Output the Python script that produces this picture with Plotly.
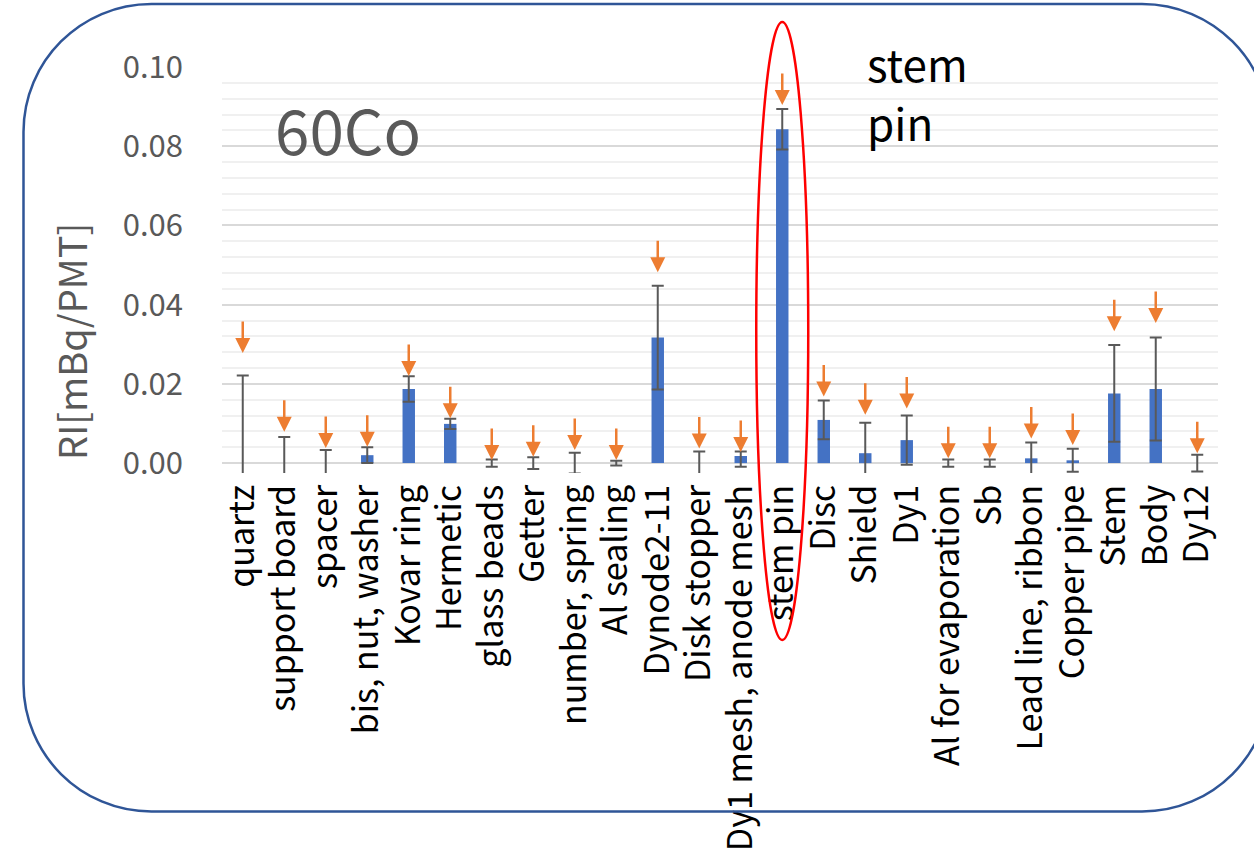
import plotly.graph_objects as go

# Parts of the PMT and their measured 60Co activity (mBq/PMT)
categories = [
    "quartz", "support board", "spacer", "bis, nut, washer", "Kovar ring",
    "Hermetic", "glass beads", "Getter", "number, spring", "Al sealing",
    "Dynode2-11", "Disk stopper", "Dy1 mesh, anode mesh", "stem pin", "Disc",
    "Shield", "Dy1", "Al for evaporation", "Sb", "Lead line, ribbon",
    "Copper pipe", "Stem", "Body", "Dy12",
]
values = [
    0.0, 0.0, 0.0, 0.0020, 0.0187,
    0.0099, 0.0, 0.0, 0.0, 0.0,
    0.0317, 0.0, 0.0018, 0.0843, 0.0109,
    0.0025, 0.0058, 0.0, 0.0, 0.0012,
    0.0007, 0.0176, 0.0187, 0.0,
]
err_plus = [
    0.0221, 0.0066, 0.0033, 0.0020, 0.0032,
    0.0013, 0.0009, 0.0015, 0.0026, 0.0006,
    0.0131, 0.0029, 0.0011, 0.0051, 0.0049,
    0.0077, 0.0062, 0.0009, 0.0009, 0.0040,
    0.0029, 0.0122, 0.0130, 0.0021,
]
err_minus = [
    0.0221, 0.0066, 0.0033, 0.0020, 0.0032,
    0.0013, 0.0009, 0.0015, 0.0026, 0.0006,
    0.0131, 0.0029, 0.0027, 0.0051, 0.0049,
    0.0077, 0.0062, 0.0009, 0.0009, 0.0040,
    0.0029, 0.0122, 0.0130, 0.0021,
]
# Upper limits, drawn as downward arrows
upper_limits = [
    0.0278, 0.0079, 0.0038, 0.0041, 0.0220,
    0.0113, 0.0008, 0.0016, 0.0033, 0.0008,
    0.0482, 0.0037, 0.0028, 0.0904, 0.0168,
    0.0122, 0.0138, 0.0012, 0.0012, 0.0062,
    0.0046, 0.0333, 0.0354, 0.0025,
]
y_ticks = [0.0, 0.02, 0.04, 0.06, 0.08, 0.10]
y_tick_text = ["0.00", "0.02", "0.04", "0.06", "0.08", "0.10"]

W, H = 1254, 857
L, R, T, B = 222, 36, 67, 384
PW, PH = W - L - R, H - T - B
FONT = "Noto Sans CJK JP"


def px(x):
    return (x - L) / PW


def py(y):
    return (H - B - y) / PH


fig = go.Figure()
fig.add_trace(go.Bar(
    x=categories, y=values,
    marker=dict(color="#4472C4", line=dict(width=0)),
    error_y=dict(type="data", symmetric=False, array=err_plus, arrayminus=err_minus,
                 color="#595959", thickness=2, width=6),
    showlegend=False,
))

annotations = []
for cat, lim in zip(categories, upper_limits):
    annotations.append(dict(
        x=cat, y=lim, xref="x", yref="y", text="", showarrow=True,
        ax=0, ay=-33, arrowhead=2, arrowsize=1.2, arrowwidth=2.5,
        arrowcolor="#ED7D31", standoff=0,
    ))

annotations.append(dict(
    x=px(273), y=py(128), xref="paper", yref="paper", text="60Co",
    showarrow=False, xanchor="left", yanchor="middle",
    font=dict(family=FONT, size=62, color="#595959"),
))
annotations.append(dict(
    x=px(865), y=py(63), xref="paper", yref="paper", text="stem",
    showarrow=False, xanchor="left", yanchor="middle",
    font=dict(family=FONT, size=44, color="#000000"),
))
annotations.append(dict(
    x=px(865), y=py(122), xref="paper", yref="paper", text="pin",
    showarrow=False, xanchor="left", yanchor="middle",
    font=dict(family=FONT, size=44, color="#000000"),
))
# y-axis title
annotations.append(dict(
    x=px(70), y=py(342), xref="paper", yref="paper", text="RI[mBq/PMT]",
    showarrow=False, xanchor="center", yanchor="middle", textangle=-90,
    font=dict(family=FONT, size=38, color="#595959"),
))

shapes = []
# ellipse around the stem pin column
n = len(categories)
i_pin = categories.index("stem pin")
cx = (i_pin + 0.5) / n
half_w = 26 / PW
shapes.append(dict(
    type="circle", xref="paper", yref="paper",
    x0=cx - half_w, x1=cx + half_w, y0=py(640), y1=py(22),
    line=dict(color="#FF0000", width=2.5), fillcolor="rgba(0,0,0,0)",
))

# rounded frame
x0f, y0f, x1f, y1f, rad = 23.5, 4, 1270, 811.5, 128
k = 0.5523 * rad


def P(x, y):
    return f"{px(x):.5f},{py(y):.5f}"


path = (
    f"M{P(x0f + rad, y0f)} L{P(x1f - rad, y0f)} "
    f"C{P(x1f - rad + k, y0f)} {P(x1f, y0f + rad - k)} {P(x1f, y0f + rad)} "
    f"L{P(x1f, y1f - rad)} "
    f"C{P(x1f, y1f - rad + k)} {P(x1f - rad + k, y1f)} {P(x1f - rad, y1f)} "
    f"L{P(x0f + rad, y1f)} "
    f"C{P(x0f + rad - k, y1f)} {P(x0f, y1f - rad + k)} {P(x0f, y1f - rad)} "
    f"L{P(x0f, y0f + rad)} "
    f"C{P(x0f, y0f + rad - k)} {P(x0f + rad - k, y0f)} {P(x0f + rad, y0f)} Z"
)
shapes.append(dict(type="path", xref="paper", yref="paper", path=path,
                   line=dict(color="#2F5597", width=2.5)))

fig.update_layout(
    width=W, height=H,
    margin=dict(l=L, r=R, t=T, b=B, pad=0, autoexpand=False),
    paper_bgcolor="white", plot_bgcolor="white",
    bargap=0.7,
    font=dict(family=FONT),
    annotations=annotations, shapes=shapes,
    xaxis=dict(
        type="category", range=[-0.5, n - 0.5], tickangle=-90,
        showgrid=False, showline=False, zeroline=False, ticks="",
        tickfont=dict(family=FONT, size=34, color="#000000"),
        ticklabelstandoff=4, automargin=False,
    ),
    yaxis=dict(
        range=[-0.0025, 0.10], tickvals=y_ticks, ticktext=y_tick_text,
        showgrid=True, gridcolor="#D9D9D9", gridwidth=1.5,
        minor=dict(dtick=0.004, tick0=0, showgrid=True, gridcolor="#F0F0F0", gridwidth=1.5),
        zeroline=False, showline=False, ticks="",
        tickfont=dict(family=FONT, size=31, color="#595959"),
        ticklabelstandoff=38, automargin=False,
    ),
)

fig.write_html("out.html")
